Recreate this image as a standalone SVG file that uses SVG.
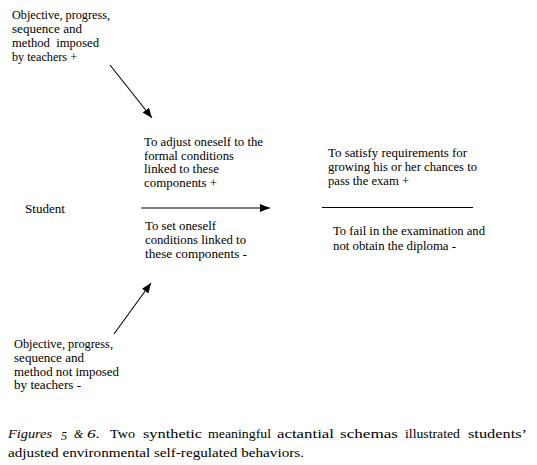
<svg xmlns="http://www.w3.org/2000/svg" width="537" height="465" viewBox="0 0 537 465">
<style>
  text { font-family: "Liberation Serif", "Times New Roman", serif; fill: #000; }
  .t { font-size: 11.5px; }
  .cap { font-size: 13.5px; }
  .conn line { stroke: #000; stroke-width: 1.1; }
</style>
<defs>
  <marker id="ah" viewBox="0 0 10 8" refX="10" refY="4" markerWidth="10" markerHeight="8" markerUnits="userSpaceOnUse" orient="auto">
    <path d="M0,0 L10,4 L0,8 Z" fill="#000"/>
  </marker>
</defs>
<rect width="537" height="465" fill="#fff"/>

<g id="helper-imposed">
  <text class="t" x="12" y="19" textLength="98" lengthAdjust="spacingAndGlyphs">Objective, progress,</text>
  <text class="t" x="12" y="33" textLength="70" lengthAdjust="spacingAndGlyphs">sequence and</text>
  <text class="t" x="12" y="47" textLength="87" lengthAdjust="spacingAndGlyphs" xml:space="preserve">method  imposed</text>
  <text class="t" x="12" y="61" textLength="65" lengthAdjust="spacingAndGlyphs">by teachers +</text>
</g>

<g id="subject">
  <text class="t" x="25" y="213" textLength="40" lengthAdjust="spacingAndGlyphs">Student</text>
</g>

<g id="object-upper">
  <text class="t" x="144" y="146" textLength="119" lengthAdjust="spacingAndGlyphs">To adjust oneself to the</text>
  <text class="t" x="144" y="160" textLength="90" lengthAdjust="spacingAndGlyphs">formal conditions</text>
  <text class="t" x="144" y="173" textLength="75" lengthAdjust="spacingAndGlyphs">linked to these</text>
  <text class="t" x="144" y="187" textLength="73" lengthAdjust="spacingAndGlyphs">components +</text>
</g>

<g id="object-lower">
  <text class="t" x="145" y="230" textLength="71" lengthAdjust="spacingAndGlyphs">To set oneself</text>
  <text class="t" x="145" y="244" textLength="101" lengthAdjust="spacingAndGlyphs">conditions linked to</text>
  <text class="t" x="145" y="258" textLength="102" lengthAdjust="spacingAndGlyphs">these components -</text>
</g>

<g id="receiver-upper">
  <text class="t" x="328" y="157" textLength="139" lengthAdjust="spacingAndGlyphs">To satisfy requirements for</text>
  <text class="t" x="328" y="171" textLength="149" lengthAdjust="spacingAndGlyphs">growing his or her chances to</text>
  <text class="t" x="328" y="185" textLength="81" lengthAdjust="spacingAndGlyphs">pass the exam +</text>
</g>

<g id="receiver-lower">
  <text class="t" x="333" y="235" textLength="152" lengthAdjust="spacingAndGlyphs">To fail in the examination and</text>
  <text class="t" x="333" y="250" textLength="123" lengthAdjust="spacingAndGlyphs">not obtain the diploma -</text>
</g>

<g id="helper-not-imposed">
  <text class="t" x="14" y="348" textLength="99" lengthAdjust="spacingAndGlyphs">Objective, progress,</text>
  <text class="t" x="14" y="362" textLength="70" lengthAdjust="spacingAndGlyphs">sequence and</text>
  <text class="t" x="14" y="376" textLength="105" lengthAdjust="spacingAndGlyphs">method not imposed</text>
  <text class="t" x="14" y="389" textLength="67" lengthAdjust="spacingAndGlyphs">by teachers -</text>
</g>

<g id="connectors" class="conn">
  <line x1="110" y1="65" x2="152" y2="118" marker-end="url(#ah)"/>
  <line x1="114" y1="334" x2="151" y2="283" marker-end="url(#ah)"/>
  <line x1="141" y1="208" x2="270" y2="208" marker-end="url(#ah)"/>
  <line x1="322" y1="207.5" x2="473" y2="207.5"/>
</g>

<g id="caption">
  <text class="cap" x="8" y="438" font-style="italic" textLength="44" lengthAdjust="spacingAndGlyphs">Figures</text>
  <text class="cap" x="61" y="440" font-style="italic" textLength="6" lengthAdjust="spacingAndGlyphs">5</text>
  <text class="cap" x="74" y="438" font-style="italic" textLength="9" lengthAdjust="spacingAndGlyphs">&amp;</text>
  <text class="cap" x="87" y="438" font-style="italic" textLength="13" lengthAdjust="spacingAndGlyphs">6.</text>
  <text class="cap" x="110" y="438" textLength="25" lengthAdjust="spacingAndGlyphs">Two</text>
  <text class="cap" x="143" y="438" textLength="59" lengthAdjust="spacingAndGlyphs">synthetic</text>
  <text class="cap" x="208" y="438" textLength="63" lengthAdjust="spacingAndGlyphs">meaningful</text>
  <text class="cap" x="277" y="438" textLength="57" lengthAdjust="spacingAndGlyphs">actantial</text>
  <text class="cap" x="340" y="438" textLength="58" lengthAdjust="spacingAndGlyphs">schemas</text>
  <text class="cap" x="405" y="438" textLength="55" lengthAdjust="spacingAndGlyphs">illustrated</text>
  <text class="cap" x="468" y="438" textLength="59" lengthAdjust="spacingAndGlyphs">students’</text>
  <text class="cap" x="8" y="457" textLength="296" lengthAdjust="spacingAndGlyphs">adjusted environmental self-regulated behaviors.</text>
</g>
</svg>
